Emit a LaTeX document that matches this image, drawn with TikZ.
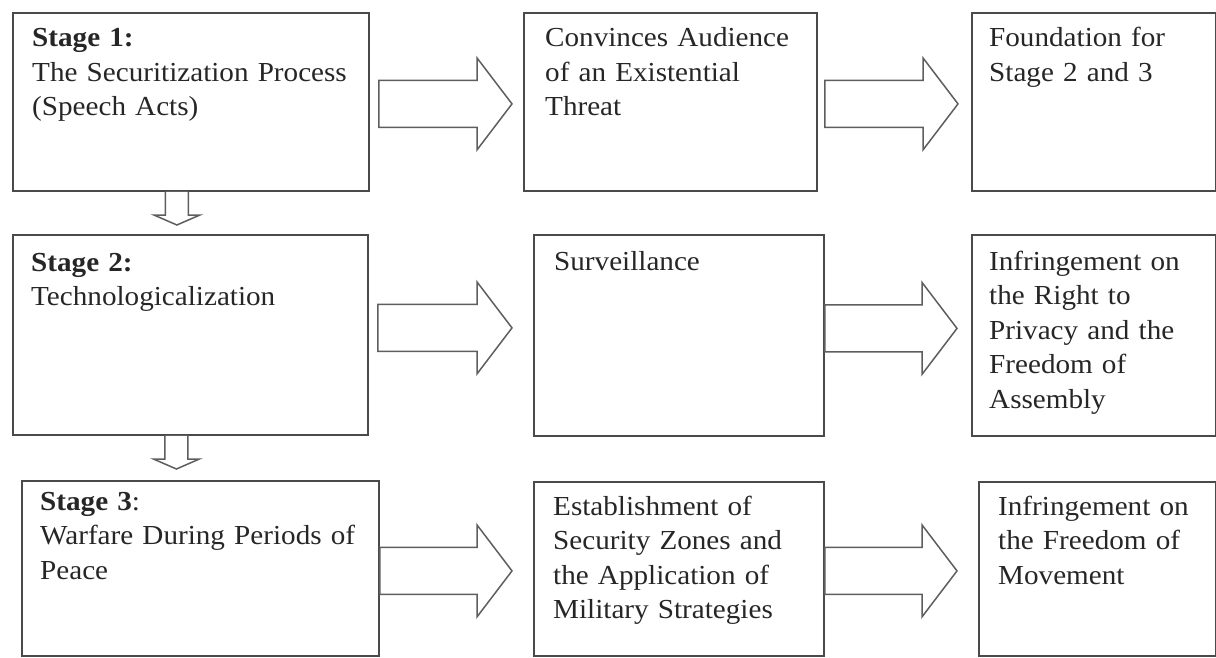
\documentclass[tikz,border=0pt]{standalone}
\usepackage{fontspec}
\setmainfont{Liberation Serif}[FakeStretch=1.06]
\usetikzlibrary{calc,positioning}
\definecolor{boxgray}{HTML}{4A4A4A}
\definecolor{arrgray}{HTML}{5E5E5E}
\definecolor{txtgray}{HTML}{262626}

% wide arrow to the right: start point, tip point
\newcommand{\rarrow}[2]{%
	\draw[blk] let \p1=(#1), \p2=(#2) in
		(\x1,\y1+23.5pt) -- (\x2-35pt,\y1+23.5pt) -- (\x2-35pt,\y1+46pt) -- (\x2,\y1)
		-- (\x2-35pt,\y1-46pt) -- (\x2-35pt,\y1-23.5pt) -- (\x1,\y1-23.5pt) -- cycle;}
% small arrow down: start point, tip point
\newcommand{\darrow}[2]{%
	\draw[blk] let \p1=(#1), \p2=(#2) in
		(\x1-11.5pt,\y1) -- (\x1-11.5pt,\y2+10pt) -- (\x1-23pt,\y2+10pt) -- (\x1,\y2)
		-- (\x1+23pt,\y2+10pt) -- (\x1+11.5pt,\y2+10pt) -- (\x1+11.5pt,\y1);}

\begin{document}
\begin{tikzpicture}
	[x=1pt,y=-1pt,
	box/.style={draw=boxgray,line width=1.8pt,anchor=north west,inner sep=0pt},
	txt/.style={anchor=base west,inner sep=0pt,text width=340pt,align=left,text=txtgray,
		font=\fontsize{27.5}{34.5}\selectfont},
	blk/.style={draw=arrgray,line width=1.5pt,fill=white,line join=miter}]
	\useasboundingbox (0,0) rectangle (1216,658);

	\foreach \nm/\x/\y/\w/\h in {a/12/12/356/178, b/523/12/293/178, c/971/12/244/178,
		d/12/234/355/200, e/533/234/290/201, f/971/234/244/201,
		g/21/480/357/175, h/533/481/290/174, i/978/481/237/174}
	{
		\node[box,minimum width=\w,minimum height=\h] (\nm) at (\x,\y) {};
	}

	\node[txt] (at) at ($(a.north west)+(20,35)$) {\textbf{Stage 1:}\\The Securitization Process\\(Speech Acts)};
	\node[txt] (bt) at ($(b.north west)+(22,35)$) {Convinces Audience\\of an Existential\\Threat};
	\node[txt] (ct) at ($(c.north west)+(18,35)$) {Foundation for\\Stage 2 and 3};
	\node[txt] (dt) at ($(d.north west)+(19,37)$) {\textbf{Stage 2:}\\Technologicalization};
	\node[txt] (et) at ($(e.north west)+(21,36)$) {Surveillance};
	\node[txt] (ft) at ($(f.north west)+(18,36)$) {Infringement on\\the Right to\\Privacy and the\\Freedom of\\Assembly};
	\node[txt] (gt) at ($(g.north west)+(19,30)$) {\textbf{Stage 3}:\\Warfare During Periods of\\Peace};
	\node[txt] (ht) at ($(h.north west)+(20,34)$) {Establishment of\\Security Zones and\\the Application of\\Military Strategies};
	\node[txt] (it) at ($(i.north west)+(20,34)$) {Infringement on\\the Freedom of\\Movement};

	\rarrow{$(a.east)+(9,2)$}{$(b.west)+(-11,2)$}
	\rarrow{$(b.east)+(7,2)$}{$(c.west)+(-13,2)$}
	\rarrow{$(d.east)+(9,-7)$}{$(e.west)+(-21,-7)$}
	\rarrow{$(e.east)+(0,-7)$}{$(f.west)+(-14,-7)$}
	\rarrow{$(g.east)+(0,2.5)$}{$(h.west)+(-21,2.5)$}
	\rarrow{$(h.east)+(0,2)$}{$(i.west)+(-21,2)$}

	\darrow{$(a.south)+(-14,0)$}{$(d.north)+(-14,-9)$}
	\darrow{$(d.south)+(-14,0)$}{$(g.north)+(-23,-11)$}
\end{tikzpicture}
\end{document}
